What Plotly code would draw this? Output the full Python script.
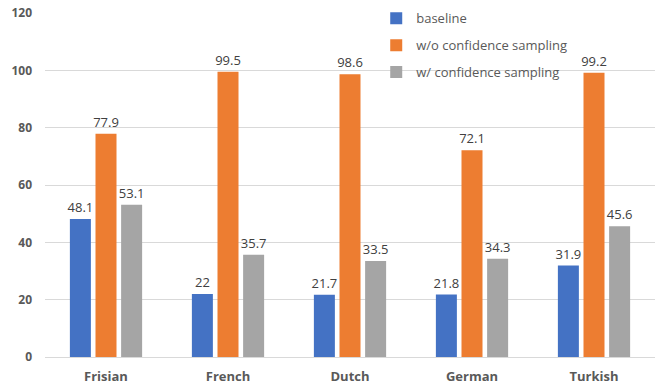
import plotly.graph_objects as go

languages = ["Frisian", "French", "Dutch", "German", "Turkish"]
baseline = [48.1, 22, 21.7, 21.8, 31.9]
without_conf = [77.9, 99.5, 98.6, 72.1, 99.2]
with_conf = [53.1, 35.7, 33.5, 34.3, 45.6]

series = [
    ("baseline", baseline, "#4472C4"),
    ("w/o confidence sampling", without_conf, "#ED7D31"),
    ("w/ confidence sampling", with_conf, "#A5A5A5"),
]

fig = go.Figure()
for name, vals, color in series:
    fig.add_trace(go.Bar(
        x=languages, y=vals, name=name, legendgroup=name,
        marker=dict(color=color, line=dict(width=0)),
        text=[f"{v:g}" for v in vals],
        textposition="outside",
        constraintext="none",
        textfont=dict(family="Open Sans, sans-serif", size=13, color="#404040"),
        cliponaxis=False,
    ))

fig.update_layout(
    width=663, height=386,
    margin=dict(l=45, r=8, t=13, b=29, autoexpand=False),
    paper_bgcolor="white", plot_bgcolor="white",
    barmode="group", bargap=0.37, bargroupgap=0.18,
    font=dict(family="Open Sans, sans-serif", color="#595959"),
    showlegend=True,
    legend=dict(
        x=0.543, y=1.028, xanchor="left", yanchor="top",
        bgcolor="rgba(0,0,0,0)",
        font=dict(size=13, color="#595959"),
        itemwidth=30, tracegroupgap=7,
    ),
    xaxis=dict(
        showgrid=False, showline=False, ticks="", automargin=False,
        tickfont=dict(size=13, color="#595959", weight="bold"),
        ticklabelstandoff=10,
    ),
    yaxis=dict(
        range=[0, 120], dtick=20, automargin=False,
        showgrid=True, gridcolor="#D9D9D9", gridwidth=1,
        zeroline=True, zerolinecolor="#D9D9D9", zerolinewidth=1,
        showline=False, ticks="",
        tickfont=dict(size=12, color="#595959", weight="bold"),
        ticklabelstandoff=12,
    ),
)

fig.write_html("out.html")
